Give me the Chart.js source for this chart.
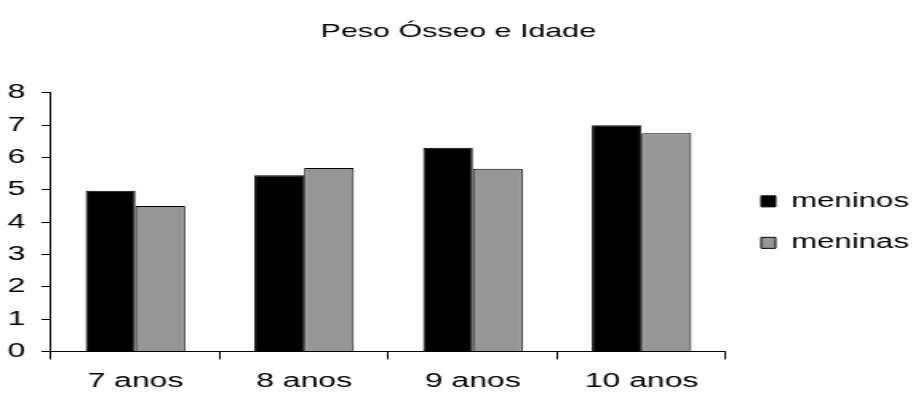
<!DOCTYPE html>
<html>
<head>
<meta charset="utf-8">
<script src="https://cdn.jsdelivr.net/npm/chart.js@4/dist/chart.umd.min.js"></script>
<style>
  html, body { margin: 0; padding: 0; background: #fff; overflow: hidden; }
  /* o gráfico original é esticado na horizontal */
  #grafico { transform: scaleX(1.599); transform-origin: 0 0; display: block; }
</style>
</head>
<body>
<canvas id="grafico" width="571" height="397"></canvas>
<script>
// dados
const idades = ["7 anos", "8 anos", "9 anos", "10 anos"];
const meninos = [4.97, 5.45, 6.3, 7.0];
const meninas = [4.5, 5.67, 5.65, 6.75];
const escalaY = [0, 1, 2, 3, 4, 5, 6, 7, 8];

const fonte = "'Liberation Sans', Arial, sans-serif";

new Chart(document.getElementById("grafico"), {
    type: 'bar',
    data: {
        labels: idades,
        datasets: [
            {
                label: "meninos",
                data: meninos,
                backgroundColor: "#000000",
                borderColor: "#000000",
                borderWidth: 1
            },
            {
                label: "meninas",
                data: meninas,
                backgroundColor: "#969696",
                borderColor: "#000000",
                borderWidth: 1
            }
        ]
    },
    options: {
        responsive: false,
        animation: false,
        devicePixelRatio: 1,
        layout: { padding: { left: -5.2, right: -7.45, top: 0, bottom: -6.4 } },
        datasets: {
            bar: { categoryPercentage: 0.59, barPercentage: 1.0 }
        },
        plugins: {
            title: {
                display: true,
                text: "Peso Ósseo e Idade",
                color: "#000",
                font: { family: fonte, size: 19, weight: 'normal', lineHeight: 1.2 },
                padding: { top: 20, bottom: 50 }
            },
            legend: {
                display: true,
                position: 'right',
                fullSize: false,
                labels: {
                    color: "#000",
                    boxWidth: 9,
                    boxHeight: 11,
                    padding: 22,
                    font: { family: fonte, size: 19.5 }
                }
            },
            tooltip: { enabled: false }
        },
        scales: {
            x: {
                grid: { display: true, drawOnChartArea: false, drawTicks: true, tickLength: 8, color: "#000" },
                border: { display: true, color: "#000", width: 1 },
                ticks: { color: "#000", padding: 10, font: { family: fonte, size: 20 } }
            },
            y: {
                min: 0,
                max: 8,
                afterBuildTicks: (eixo) => { eixo.ticks = escalaY.map(v => ({ value: v })); },
                grid: { display: true, drawOnChartArea: false, drawTicks: true, tickLength: 6, color: "#000" },
                border: { display: true, color: "#000", width: 1 },
                ticks: { color: "#000", padding: 10, font: { family: fonte, size: 20 } }
            }
        }
    }
});
</script>
</body>
</html>
